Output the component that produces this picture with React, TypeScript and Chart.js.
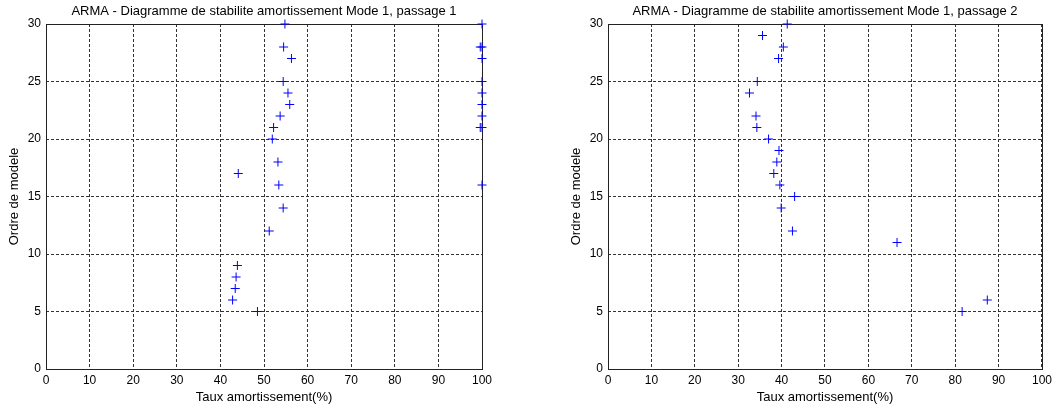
import React, { useEffect, useRef } from "react";
import { Chart, registerables } from "chart.js";

Chart.register(...registerables);

// Passage 1 : ordre de modele / taux d'amortissement (%)
const pass1Orders = [30, 28, 27, 25, 24, 23, 22, 21, 20, 18, 17, 16, 14, 12, 9, 8, 7, 6, 5, 30, 28, 28, 27, 25, 24, 23, 22, 21, 21, 16];
const pass1Damping = [54.8, 54.5, 56.3, 54.4, 55.5, 55.9, 53.7, 52.2, 51.9, 53.2, 44.1, 53.4, 54.4, 51.2, 43.9, 43.6, 43.4, 42.8, 48.5, 100, 100, 99.6, 100, 100, 100, 100, 100, 100, 99.6, 100];

// Passage 2
const pass2Orders = [30, 29, 28, 27, 25, 24, 22, 21, 20, 19, 18, 17, 16, 15, 14, 12, 11, 6, 5];
const pass2Damping = [41.3, 35.6, 40.4, 39.3, 34.4, 32.6, 34.1, 34.3, 37.0, 39.4, 38.9, 38.2, 39.6, 43.0, 39.9, 42.5, 66.6, 87.4, 81.6];

const titles = [
  "ARMA - Diagramme de stabilite amortissement Mode 1, passage 1",
  "ARMA - Diagramme de stabilite amortissement Mode 1, passage 2",
];
const xTitle = "Taux amortissement(%)";
const yTitle = "Ordre de modele";

const FONT = "'Liberation Sans', Arial, Helvetica, sans-serif";

const boxPlugin = {
  id: "boxPlugin",
  beforeDatasetsDraw(chart: any) {
    const { ctx, chartArea } = chart;
    const l = Math.round(chartArea.left) + 0.5;
    const t = Math.round(chartArea.top) + 0.5;
    const r = Math.round(chartArea.right) + 0.5;
    const b = Math.round(chartArea.bottom) + 0.5;
    ctx.save();
    ctx.strokeStyle = "#222";
    ctx.lineWidth = 1;
    ctx.setLineDash([]);
    ctx.strokeRect(l, t, r - l, b - t);
    ctx.restore();
  },
};

function makeConfig(title: string, xs: number[], ys: number[], padLeft: number, padRight: number): any {
  const data = xs.map((x, i) => ({ x, y: ys[i] }));
  return {
    type: "scatter",
    data: {
      datasets: [
        {
          data,
          pointStyle: "cross",
          pointRadius: 4.5,
          pointBorderWidth: 1,
          pointBorderColor: "#0000ff",
          pointBackgroundColor: "#0000ff",
          showLine: false,
          clip: false,
        },
      ],
    },
    options: {
      responsive: false,
      animation: false,
      events: [],
      devicePixelRatio: 1,
      layout: { padding: { left: padLeft, right: padRight, top: 0, bottom: 0 } },
      plugins: {
        legend: { display: false },
        tooltip: { enabled: false },
        title: {
          display: true,
          text: title,
          fullSize: false,
          color: "#000",
          font: { family: FONT, size: 13, weight: "normal", lineHeight: 1.2 },
          padding: { top: 4, bottom: 4.4 },
        },
      },
      scales: {
        x: {
          type: "linear",
          min: 0,
          max: 100,
          ticks: { stepSize: 10, color: "#000", padding: 4, maxRotation: 0, font: { family: FONT, size: 12 } },
          grid: { color: "#333", lineWidth: 1, drawTicks: false },
          border: { display: false, dash: [3, 2] },
          title: {
            display: true,
            text: xTitle,
            color: "#000",
            font: { family: FONT, size: 13, lineHeight: 1.2 },
            padding: { top: 0, bottom: 3 },
          },
          afterFit(scale: any) {
            scale.height = 39;
          },
        },
        y: {
          type: "linear",
          min: 0,
          max: 30,
          ticks: { stepSize: 5, color: "#000", padding: 5, font: { family: FONT, size: 12 } },
          grid: { color: "#333", lineWidth: 1, drawTicks: false },
          border: { display: false, dash: [3, 2] },
          title: {
            display: true,
            text: yTitle,
            color: "#000",
            font: { family: FONT, size: 13, lineHeight: 1.2 },
            padding: { top: 7, bottom: 0 },
          },
          afterFit(scale: any) {
            scale.width = 46;
          },
        },
      },
    },
    plugins: [boxPlugin],
  };
}

function StabilityChart(props: { title: string; xs: number[]; ys: number[]; padLeft: number; padRight: number }) {
  const ref = useRef<HTMLCanvasElement | null>(null);
  useEffect(() => {
    if (!ref.current) return;
    const chart = new Chart(ref.current, makeConfig(props.title, props.xs, props.ys, props.padLeft, props.padRight));
    return () => chart.destroy();
  }, []);
  return (
    <div style={{ width: 528, height: 408, position: "relative" }}>
      <canvas ref={ref} width={528} height={408} style={{ display: "block" }} />
    </div>
  );
}

export default function App() {
  useEffect(() => {
    document.body.style.margin = "0";
  }, []);
  return (
    <div style={{ position: "absolute", left: 0, top: 0, width: 1056, height: 408, background: "#fff", display: "flex" }}>
      <StabilityChart title={titles[0]} xs={pass1Damping} ys={pass1Orders} padLeft={0} padRight={46} />
      <StabilityChart title={titles[1]} xs={pass2Damping} ys={pass2Orders} padLeft={34} padRight={12} />
    </div>
  );
}
